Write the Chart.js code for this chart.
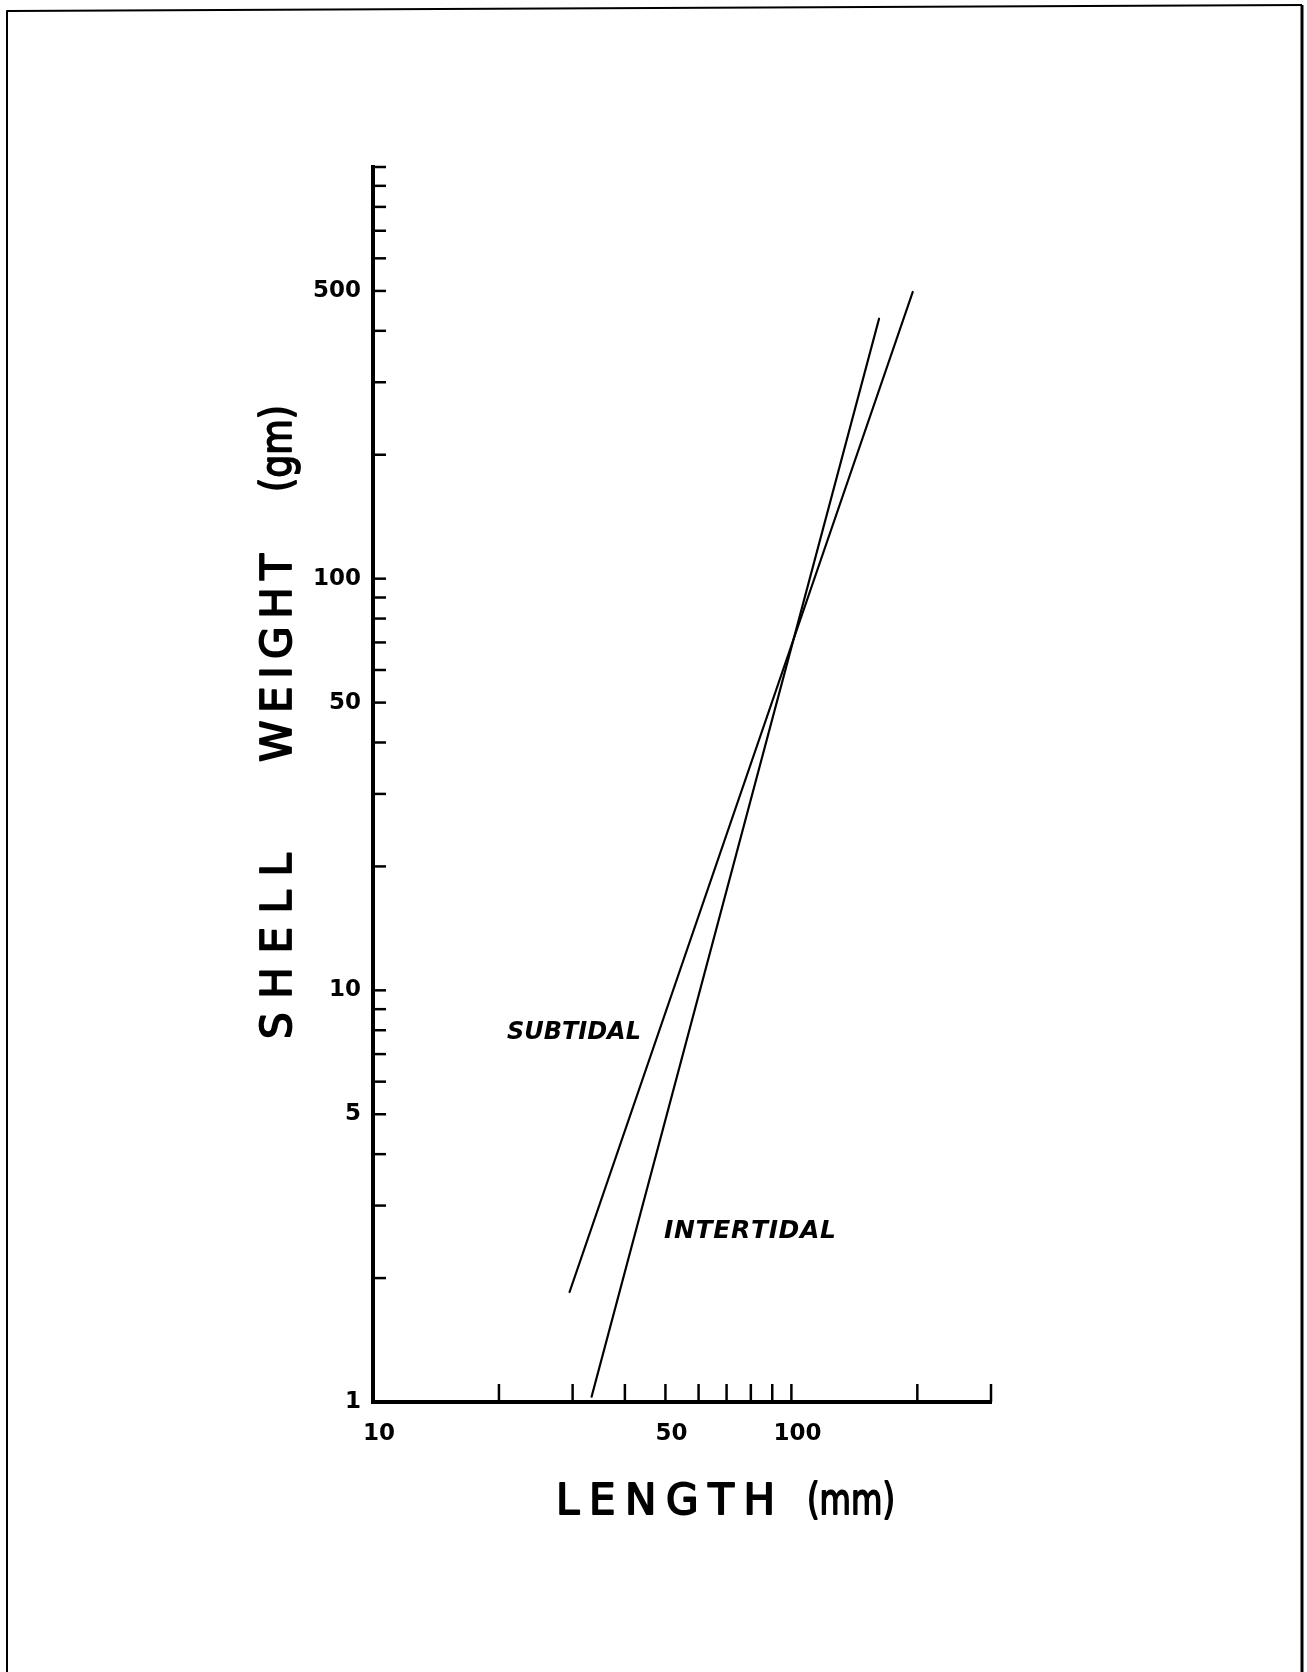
<!DOCTYPE html>
<html>
<head>
<meta charset="utf-8">
<title>Shell weight vs length</title>
<script src="https://cdn.jsdelivr.net/npm/chart.js@4.4.1/dist/chart.umd.min.js"></script>
<style>
  html, body { margin: 0; padding: 0; background: #fff; }
  canvas { display: block; }
</style>
</head>
<body>
<canvas id="chart" width="1307" height="1672"></canvas>
<script>
// Данные
const subtidalLength = [29.5, 195];
const subtidalWeight = [1.85, 497];
const intertidalLength = [33.3, 162];
const intertidalWeight = [1.03, 428];

const xTicks = [20, 30, 40, 50, 60, 70, 80, 90, 100, 200, 300];
const xTickLabels = [10, 50, 100];
const yTicks = [2, 3, 4, 5, 6, 7, 8, 9, 10, 20, 30, 40, 50, 60, 70, 80, 90,
  100, 200, 300, 400, 500, 600, 700, 800, 900, 1000];
const yTickLabels = [1, 5, 10, 50, 100, 500];

const curveNames = ["SUBTIDAL", "INTERTIDAL"];
const curveLabelAt = [[20.9, 7.9], [49.6, 2.6]];

// рисует буквы с равным шагом между x0 и x1 (сжимает, если не влезает)
function spaced(ctx, text, x0, x1, y, outline) {
  const chars = [...text];
  const ws = chars.map(c => ctx.measureText(c).width);
  const total = ws.reduce((a, b) => a + b, 0);
  let gap = chars.length > 1 ? (x1 - x0 - total) / (chars.length - 1) : 0;
  let sx = 1;
  if (gap < 0) { gap = 0; sx = (x1 - x0) / total; }
  ctx.save();
  ctx.translate(x0, y);
  ctx.scale(sx, 1);
  let x = 0;
  chars.forEach((c, i) => {
    ctx.fillText(c, x, 0);
    if (outline) ctx.strokeText(c, x, 0);
    x += ws[i] + gap / sx;
  });
  ctx.restore();
}

// засечки внутрь, подписи осей и кривых, рамка листа
const decorations = {
  id: "decorations",
  afterDraw(chart) {
    const ctx = chart.ctx;
    const xs = chart.scales.x;
    const ys = chart.scales.y;
    const area = chart.chartArea;

    ctx.save();
    ctx.strokeStyle = "#000";
    ctx.fillStyle = "#000";
    ctx.lineWidth = 2.5;
    ctx.lineCap = "butt";

    yTicks.forEach(v => {
      const py = ys.getPixelForValue(v);
      ctx.beginPath();
      ctx.moveTo(area.left, py);
      ctx.lineTo(area.left + 13, py);
      ctx.stroke();
    });
    xTicks.forEach(v => {
      const px = xs.getPixelForValue(v);
      ctx.beginPath();
      ctx.moveTo(px, area.bottom);
      ctx.lineTo(px, area.bottom - 18);
      ctx.stroke();
    });

    // подписи кривых
    ctx.font = "italic bold 25px 'DejaVu Sans'";
    ctx.textAlign = "left";
    ctx.textBaseline = "middle";
    curveNames.forEach((name, i) => {
      const px = xs.getPixelForValue(curveLabelAt[i][0]);
      const py = ys.getPixelForValue(curveLabelAt[i][1]);
      const w = i === 0 ? 134 : 172;
      spaced(ctx, name, px, px + w, py);
    });

    // заголовки осей (средняя жирность: обычный шрифт + обводка)
    ctx.font = "42px 'DejaVu Sans'";
    ctx.lineWidth = 1.8;
    ctx.lineJoin = "round";
    spaced(ctx, "LENGTH", 556, 775, 1503, true);
    spaced(ctx, "(mm)", 807, 895, 1503, true);

    ctx.save();
    ctx.translate(280, 0);
    ctx.rotate(-Math.PI / 2);
    spaced(ctx, "SHELL", -1039, -853, 0, true);
    spaced(ctx, "WEIGHT", -762, -554, 0, true);
    spaced(ctx, "(gm)", -492, -405, 0, true);
    ctx.restore();

    // рамка листа
    ctx.lineWidth = 2;
    ctx.beginPath();
    ctx.moveTo(7, 1672);
    ctx.lineTo(7, 11);
    ctx.lineTo(1302, 5);
    ctx.stroke();
    ctx.lineWidth = 3;
    ctx.beginPath();
    ctx.moveTo(1302, 5);
    ctx.lineTo(1302, 1672);
    ctx.stroke();
    ctx.restore();
  }
};

function renderChart() {
  const ctx = document.getElementById("chart").getContext("2d");
  const line = (xs, ys) => xs.map((x, i) => ({ x, y: ys[i] }));
  const lineStyle = {
    showLine: true,
    pointRadius: 0,
    borderColor: "#000",
    borderWidth: 2.2,
    borderCapStyle: "round"
  };

  new Chart(ctx, {
    type: "scatter",
    data: {
      datasets: [
        { label: curveNames[0], data: line(subtidalLength, subtidalWeight), ...lineStyle },
        { label: curveNames[1], data: line(intertidalLength, intertidalWeight), ...lineStyle }
      ]
    },
    options: {
      responsive: false,
      animation: false,
      devicePixelRatio: 1,
      layout: { padding: { left: 273, right: 316, top: 167, bottom: 170 } },
      plugins: { legend: { display: false }, tooltip: { enabled: false } },
      scales: {
        x: {
          type: "logarithmic",
          min: 10,
          max: 300,
          afterBuildTicks: s => { s.ticks = [10, ...xTicks].map(v => ({ value: v })); },
          afterFit: s => { s.height = 100; },
          grid: { display: false, drawTicks: false },
          border: { display: true, color: "#000", width: 4 },
          ticks: {
            autoSkip: false,
            maxRotation: 0,
            padding: 18,
            labelOffset: 6,
            color: "#000",
            font: { family: "'DejaVu Sans'", size: 23, weight: "bold" },
            callback: v => xTickLabels.includes(v) ? String(v) : ""
          }
        },
        y: {
          type: "logarithmic",
          min: 1,
          max: 1000,
          afterBuildTicks: s => { s.ticks = [1, ...yTicks].map(v => ({ value: v })); },
          afterFit: s => { s.width = 100; },
          grid: { display: false, drawTicks: false },
          border: { display: true, color: "#000", width: 4 },
          ticks: {
            autoSkip: false,
            padding: 12,
            color: "#000",
            font: { family: "'DejaVu Sans'", size: 23, weight: "bold" },
            callback: v => yTickLabels.includes(v) ? String(v) : ""
          }
        }
      }
    },
    plugins: [decorations]
  });
}

window.onload = renderChart;
</script>
</body>
</html>
